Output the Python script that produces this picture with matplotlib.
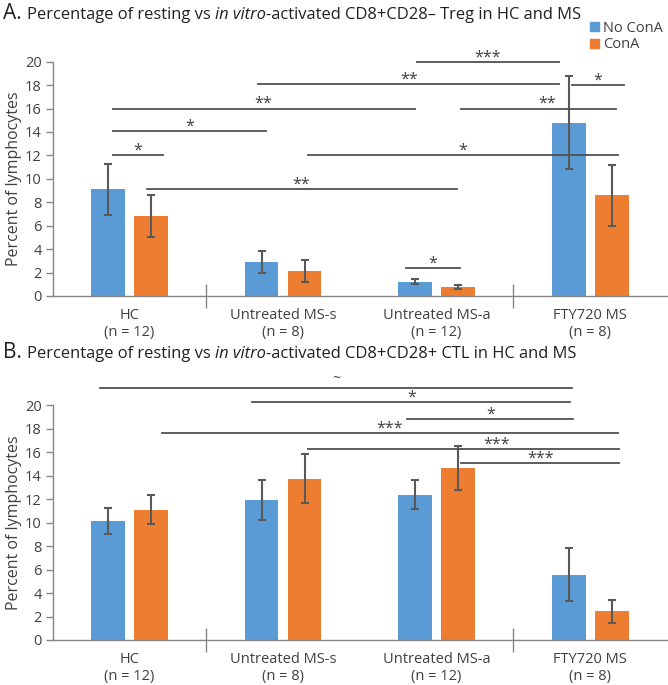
import matplotlib
matplotlib.use('Agg')
import matplotlib.pyplot as plt
from matplotlib.patches import Patch
import numpy as np

plt.rcParams['font.family'] = ['Open Sans', 'DejaVu Sans']

groups = ['HC\n(n = 12)', 'Untreated MS-s\n(n = 8)', 'Untreated MS-a\n(n = 12)', 'FTY720 MS\n(n = 8)']

# panel A: CD8+CD28- Treg
a_noconA = [9.1, 2.9, 1.22, 14.8]
a_noconA_err = [2.2, 0.9, 0.2, 4.0]
a_conA = [6.8, 2.15, 0.78, 8.6]
a_conA_err = [1.8, 0.95, 0.2, 2.6]

# panel B: CD8+CD28+ CTL
b_noconA = [10.15, 11.95, 12.4, 5.55]
b_noconA_err = [1.13, 1.7, 1.2, 2.25]
b_conA = [11.1, 13.75, 14.65, 2.43]
b_conA_err = [1.25, 2.1, 1.85, 1.0]

# significance brackets: (y, x start, x end, label, label x)
a_sig = [
    (12.0, -0.11, 0.22, '*', 0.055),
    (14.1, -0.11, 0.89, '*', 0.39),
    (16.0, -0.11, 1.86, '**', 0.87),
    (16.0, 2.16, 3.17, '**', 2.72),
    (12.0, 1.16, 3.18, '*', 2.17),
    (9.1, 0.115, 2.13, '**', 1.12),
    (2.4, 1.80, 2.15, '*', 1.975),
    (20.0, 1.87, 2.80, '***', 2.335),
    (18.1, 0.84, 2.80, '**', 1.82),
    (18.0, 2.88, 3.22, '*', 3.05),
]
b_sig = [
    (21.5, -0.19, 2.88, '~', 1.345),
    (20.25, 0.80, 2.87, '*', 1.835),
    (18.85, 1.81, 2.89, '*', 2.35),
    (17.65, 0.21, 3.18, '***', 1.695),
    (16.3, 1.16, 3.19, '***', 2.39),
    (15.05, 2.16, 3.19, '***', 2.675),
]

blue = '#5B9BD5'
orange = '#ED7D31'
axis_col = '#868686'
text_col = '#404040'
line_col = '#505050'

fig = plt.figure(figsize=(6.68, 6.85), dpi=100)
ax_a = fig.add_axes([0.0789, 0.5679, 0.9196, 0.342])
ax_b = fig.add_axes([0.0789, 0.0657, 0.9196, 0.3425])


def draw_panel(ax, noconA, noconA_err, conA, conA_err, sig):
    x = np.arange(len(groups))
    w = 0.22
    ekw = dict(ecolor='#595959', elinewidth=1.5, capsize=3, capthick=1.5)
    ax.bar(x - 0.14, noconA, w, yerr=noconA_err, color=blue, error_kw=ekw)
    ax.bar(x + 0.14, conA, w, yerr=conA_err, color=orange, error_kw=ekw)
    for y, x0, x1, lab, lx in sig:
        ax.plot([x0, x1], [y, y], color=line_col, lw=1.3, clip_on=False)
        if lab == '~':
            ax.text(lx, y + 0.15, lab, ha='center', va='bottom', fontsize=10, color=text_col)
        else:
            ax.text(lx, y - 0.3, lab, ha='center', va='bottom', fontsize=11.5, color=text_col)
    ax.set_xlim(-0.5, 3.5)
    ax.set_ylim(0, 20)
    ax.set_yticks(np.arange(0, 21, 2))
    ax.set_xticks(x)
    ax.set_xticklabels(groups, fontsize=10.5, color=text_col, linespacing=1.1)
    ax.set_xticks([0.5, 2.5], minor=True)
    ax.tick_params(axis='x', which='major', length=0, pad=9)
    ax.tick_params(axis='x', which='minor', direction='inout', length=17, color=axis_col, width=1)
    ax.tick_params(axis='y', length=5, color=axis_col, width=1, labelsize=10.5, labelcolor=text_col, pad=3)
    for s in ['top', 'right']:
        ax.spines[s].set_visible(False)
    for s in ['left', 'bottom']:
        ax.spines[s].set_color(axis_col)
        ax.spines[s].set_linewidth(1)
    ax.set_ylabel('Percent of lymphocytes', fontsize=11.5, color=text_col)
    ax.yaxis.set_label_coords(-0.05, 0.5)


draw_panel(ax_a, a_noconA, a_noconA_err, a_conA, a_conA_err, a_sig)
draw_panel(ax_b, b_noconA, b_noconA_err, b_conA, b_conA_err, b_sig)

renderer = fig.canvas.get_renderer()


def rich_title(x, y, pieces):
    for txt, size, style in pieces:
        t = fig.text(x, y, txt, fontsize=size, style=style, color='#231f20', va='baseline', ha='left')
        bb = t.get_window_extent(renderer)
        x += bb.width / fig.bbox.width


rich_title(0.004, 1 - 19 / 685, [
    ('A. ', 15, 'normal'),
    ('Percentage of resting vs ', 11.9, 'normal'),
    ('in vitro', 11.9, 'italic'),
    ('-activated CD8+CD28\u2013 Treg in HC and MS', 11.9, 'normal'),
])
rich_title(0.004, 1 - 358 / 685, [
    ('B. ', 15, 'normal'),
    ('Percentage of resting vs ', 11.9, 'normal'),
    ('in vitro', 11.9, 'italic'),
    ('-activated CD8+CD28+ CTL in HC and MS', 11.9, 'normal'),
])

handles = [Patch(color=blue, label='No ConA'), Patch(color=orange, label='ConA')]
fig.legend(handles=handles, loc='upper left', bbox_to_anchor=(590 / 668, 1 - 21 / 685),
           frameon=False, fontsize=10.5, handlelength=0.6, handleheight=0.6,
           handletextpad=0.3, labelspacing=0.1, borderpad=0, borderaxespad=0,
           labelcolor=text_col)

fig.savefig('out.png', dpi=100)
